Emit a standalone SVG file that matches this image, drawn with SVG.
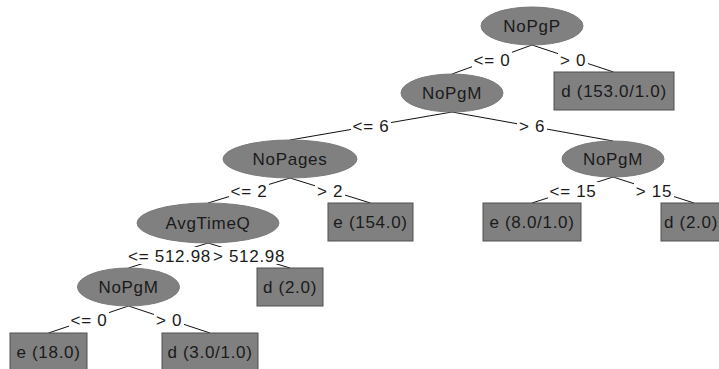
<svg xmlns="http://www.w3.org/2000/svg" width="719" height="369" viewBox="0 0 719 369">
<style>
.n{fill:#808080;stroke:#7a7a7a;stroke-width:1}
.b{fill:#808080;stroke:#505050;stroke-width:1}
.t{font-family:"Liberation Sans",Arial,sans-serif;font-size:17px;letter-spacing:0.7px;fill:#1a1a1a;text-anchor:middle}
.e{stroke:#111;stroke-width:1;fill:none}
.lb{fill:#fff}
</style>
<rect x="0" y="0" width="719" height="369" fill="#fff"/>
<g id="connectors">
<line class="e" x1="532" y1="45" x2="452" y2="74"/>
<line class="e" x1="532" y1="45" x2="613.5" y2="72"/>
<line class="e" x1="452" y1="112" x2="290" y2="140"/>
<line class="e" x1="452" y1="112" x2="613" y2="141"/>
<line class="e" x1="290" y1="178" x2="208" y2="203"/>
<line class="e" x1="290" y1="178" x2="370.5" y2="203"/>
<line class="e" x1="613" y1="177" x2="532" y2="203"/>
<line class="e" x1="613" y1="177" x2="694" y2="203"/>
<line class="e" x1="208" y1="243" x2="128.5" y2="268"/>
<line class="e" x1="208" y1="243" x2="290" y2="268"/>
<line class="e" x1="128.5" y1="306" x2="48.5" y2="333"/>
<line class="e" x1="128.5" y1="306" x2="210" y2="333"/>
<rect class="lb" x="472" y="51" width="40" height="17"/>
<text class="t" x="492" y="66">&lt;= 0</text>
<rect class="lb" x="558" y="51" width="30" height="17"/>
<text class="t" x="573" y="66">&gt; 0</text>
<rect class="lb" x="351" y="117" width="40" height="17"/>
<text class="t" x="371" y="132">&lt;= 6</text>
<rect class="lb" x="517" y="117" width="30" height="17"/>
<text class="t" x="532" y="132">&gt; 6</text>
<rect class="lb" x="229" y="182" width="40" height="17"/>
<text class="t" x="249" y="197">&lt;= 2</text>
<rect class="lb" x="315" y="182" width="30" height="17"/>
<text class="t" x="330" y="197">&gt; 2</text>
<rect class="lb" x="548" y="182" width="50" height="17"/>
<text class="t" x="573" y="197">&lt;= 15</text>
<rect class="lb" x="634" y="182" width="40" height="17"/>
<text class="t" x="654" y="197">&gt; 15</text>
<rect class="lb" x="127" y="247" width="85" height="17"/>
<text class="t" x="169.5" y="262">&lt;= 512.98</text>
<rect class="lb" x="212" y="247" width="75" height="17"/>
<text class="t" x="249" y="262">&gt; 512.98</text>
<rect class="lb" x="69" y="311" width="40" height="17"/>
<text class="t" x="89" y="326">&lt;= 0</text>
<rect class="lb" x="154" y="311" width="30" height="17"/>
<text class="t" x="169" y="326">&gt; 0</text>
</g>
<g id="n1"><ellipse class="n" cx="532" cy="26" rx="51" ry="19"/><text class="t" x="532" y="32">NoPgP</text></g>
<g id="n2"><rect class="b" x="554" y="72" width="120" height="38"/><text class="t" x="614" y="97">d (153.0/1.0)</text></g>
<g id="n3"><ellipse class="n" cx="452" cy="93" rx="51" ry="19"/><text class="t" x="452" y="99">NoPgM</text></g>
<g id="n4"><ellipse class="n" cx="290" cy="159" rx="67" ry="19"/><text class="t" x="290" y="165">NoPages</text></g>
<g id="n5"><ellipse class="n" cx="613" cy="159" rx="51" ry="18"/><text class="t" x="613" y="165">NoPgM</text></g>
<g id="n6"><ellipse class="n" cx="208" cy="223" rx="71" ry="20"/><text class="t" x="208" y="229">AvgTimeQ</text></g>
<g id="n7"><rect class="b" x="328" y="203" width="85" height="38"/><text class="t" x="370.5" y="228">e (154.0)</text></g>
<g id="n8"><rect class="b" x="483" y="203" width="98" height="38"/><text class="t" x="532" y="228">e (8.0/1.0)</text></g>
<g id="n9"><rect class="b" x="661" y="203" width="66" height="38"/><text class="t" x="691" y="228">d (2.0)</text></g>
<g id="n10"><ellipse class="n" cx="128.5" cy="287" rx="51" ry="19"/><text class="t" x="128.5" y="293">NoPgM</text></g>
<g id="n11"><rect class="b" x="257" y="268" width="66" height="38"/><text class="t" x="290" y="293">d (2.0)</text></g>
<g id="n12"><rect class="b" x="10" y="333" width="77" height="38"/><text class="t" x="48.5" y="358">e (18.0)</text></g>
<g id="n13"><rect class="b" x="162" y="333" width="96" height="38"/><text class="t" x="210" y="358">d (3.0/1.0)</text></g>
</svg>
